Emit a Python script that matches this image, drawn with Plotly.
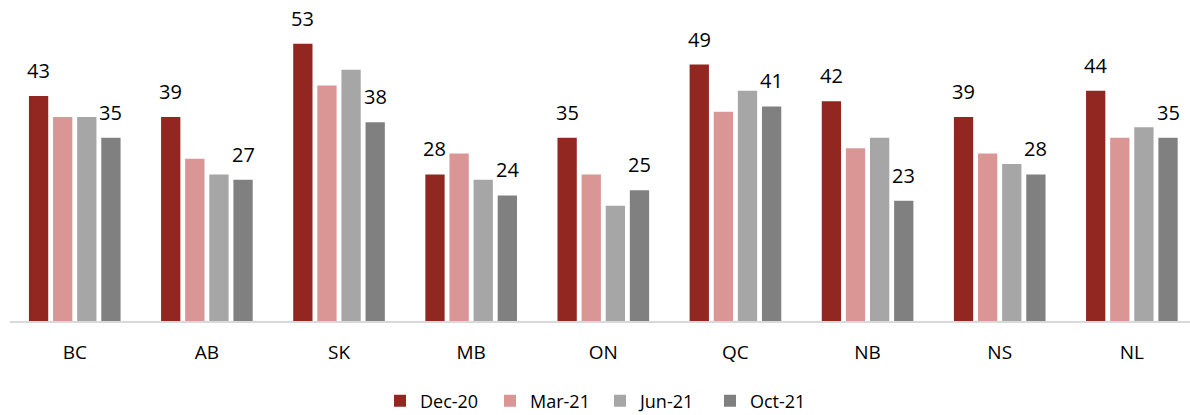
import plotly.graph_objects as go

categories = ["BC", "AB", "SK", "MB", "ON", "QC", "NB", "NS", "NL"]
series_names = ["Dec-20", "Mar-21", "Jun-21", "Oct-21"]
dec20 = [43, 39, 53, 28, 35, 49, 42, 39, 44]
mar21 = [39, 31, 45, 32, 28, 40, 33, 32, 35]
jun21 = [39, 28, 48, 27, 22, 44, 35, 30, 37]
oct21 = [35, 27, 38, 24, 25, 41, 23, 28, 35]
labeled = [True, False, False, True]
colors = ["#922621", "#DA9694", "#A6A6A6", "#808080"]

values = [dec20, mar21, jun21, oct21]
font_family = "Open Sans, Liberation Sans, sans-serif"

W, H = 1190, 415
ML, MR, MT, MB = 10, 0, 7, 94
x_range = [-0.49, 8.44]
bargap = 0.27
px_per_cat = (W - ML - MR) / (x_range[1] - x_range[0])
slot = px_per_cat * (1 - bargap) / len(series_names)

fig = go.Figure()
annotations = []
for i, (name, vals, col, lab) in enumerate(zip(series_names, values, colors, labeled)):
    fig.add_trace(go.Bar(
        x=categories, y=vals, name=name,
        marker=dict(color=col, line=dict(width=0)),
        hoverinfo="skip",
    ))
    if lab:
        for c, v in zip(categories, vals):
            annotations.append(dict(
                x=c, y=v, xref="x", yref="y", text=str(v), showarrow=False,
                xshift=(i - (len(series_names) - 1) / 2) * slot,
                yanchor="bottom", yshift=10,
                font=dict(size=20, color="#000000", family=font_family),
            ))

fig.update_layout(
    width=W, height=H,
    margin=dict(l=ML, r=MR, t=MT, b=MB, autoexpand=False),
    paper_bgcolor="white", plot_bgcolor="white",
    barmode="group", bargap=bargap, bargroupgap=0.2,
    font=dict(family=font_family, color="#000000"),
    showlegend=True,
    legend=dict(orientation="h", x=0.5, xanchor="center",
                yref="container", y=14 / H, yanchor="middle",
                font=dict(size=18, color="#000000"), itemwidth=30,
                entrywidth=65, entrywidthmode="pixels",
                traceorder="normal"),
    annotations=annotations,
)
fig.update_xaxes(
    range=x_range,
    showline=True, linecolor="#D9D9D9", linewidth=2,
    ticks="", ticklabelstandoff=13,
    tickfont=dict(size=19, color="#000000"),
    showgrid=False, zeroline=False,
)
fig.update_yaxes(
    range=[0, 60], visible=False, showgrid=False, zeroline=False,
)

fig.write_html("out.html", config={"displayModeBar": False},
               post_script="document.body.style.margin='0';document.body.style.overflow='hidden';")
